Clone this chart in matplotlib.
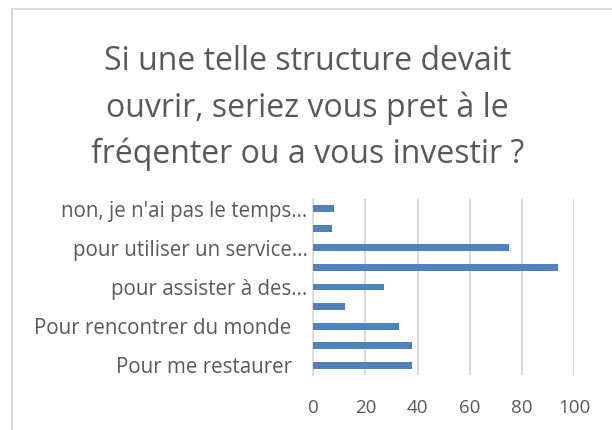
import matplotlib
matplotlib.use("Agg")
import matplotlib.pyplot as plt
from matplotlib.patches import Rectangle

# Data (top to bottom as displayed)
categories = [
    "non, je n'ai pas le temps…",
    "",
    "pour utiliser un service…",
    "",
    "pour assister à des…",
    "",
    "Pour rencontrer du monde\u00a0\u00a0\u00a0",
    "",
    "Pour me restaurer\u00a0\u00a0\u00a0",
]
values = [8, 7, 75, 94, 27, 12, 33, 38, 38]
xticks = [0, 20, 40, 60, 80, 100]
title_lines = [
    "Si une telle structure devait",
    "ouvrir, seriez vous pret à le",
    "fréqenter ou a vous investir ?",
]

TXT = "#595959"
GRID = "#d9d9d9"
BAR = "#4f81bd"
FONT = "Open Sans"

W, H = 612, 430
fig = plt.figure(figsize=(W / 100, H / 100), dpi=100)
fig.patch.set_facecolor("white")

# chart border (extends beyond right/bottom edges)
fig.patches.append(Rectangle((12 / W, -0.05), 1.2, 1 - 9 / H + 0.05,
                             transform=fig.transFigure, fill=False,
                             edgecolor=GRID, linewidth=1.5))

left, right = 313.3 / W, 574 / W
bottom, top = 1 - 375 / H, 1 - 199 / H
ax = fig.add_axes([left, bottom, right - left, top - bottom])

n = len(values)
ypos = list(range(n))[::-1]
ax.barh(ypos, values, height=0.35, color=BAR, zorder=3)

ax.set_xlim(0, 100)
ax.set_ylim(-0.5, n - 0.5)
ax.set_xticks(xticks)
ax.set_xticklabels([str(t) for t in xticks], fontsize=13.5, color=TXT, family=FONT)
ax.set_yticks(ypos)
ax.set_yticklabels(categories, fontsize=14.8, color=TXT, family=FONT)
ax.tick_params(axis="both", length=0)
ax.tick_params(axis="x", pad=17)
ax.tick_params(axis="y", pad=4)

ax.grid(axis="x", color=GRID, linewidth=1.5, zorder=0)
for s in ["top", "right", "bottom"]:
    ax.spines[s].set_visible(False)
ax.spines["left"].set_color(GRID)
ax.spines["left"].set_linewidth(1.2)
ax.set_facecolor("none")

baselines = [70, 117, 163]
for line, b in zip(title_lines, baselines):
    fig.text(307.5 / W, 1 - b / H, line, ha="center", va="baseline",
             fontsize=23, color=TXT, family=FONT)

fig.savefig("out.png", dpi=100)
